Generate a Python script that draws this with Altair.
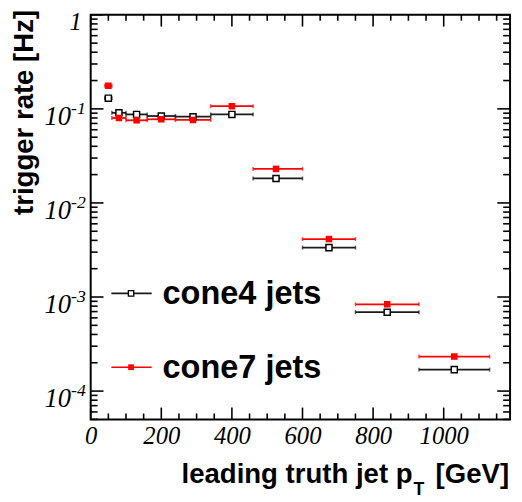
import altair as alt
import pandas as pd

# ---- data ----
bin_center = [50, 80, 130, 200, 290, 400, 525, 675, 840, 1030]
bin_lo = [40, 60, 100, 160, 240, 340, 460, 600, 750, 930]
bin_hi = [60, 100, 160, 240, 340, 460, 600, 750, 930, 1130]
cone4_rate = [0.130, 0.0908, 0.0873, 0.0839, 0.0825, 0.0873, 0.0182, 0.00335, 0.00069, 0.000169]
cone7_rate = [0.176, 0.080, 0.0756, 0.0775, 0.0762, 0.1067, 0.0230, 0.00413, 0.000837, 0.000233]
series_names = ["cone4 jets", "cone7 jets"]

x_tick_labels = [0, 200, 400, 600, 800, 1000]
x_minor_ticks = [50, 100, 150, 250, 300, 350, 450, 500, 550, 650, 700, 750,
                 850, 900, 950, 1050, 1100, 1150]
y_major_ticks = [1e-4, 1e-3, 1e-2, 1e-1, 1.0]
y_exponents = ["-4", "-3", "-2", "-1"]
y_minor_ticks = [k * 10.0 ** e for e in range(-5, 0) for k in range(2, 10) if k * 10.0 ** e >= 5e-5]

W, H = 426, 411
SERIF = "Liberation Serif, Times New Roman, Times, serif"
SANS = "Liberation Sans, Arial, Helvetica, sans-serif"

df = pd.DataFrame({
    "x": bin_center * 2,
    "lo": bin_lo * 2,
    "hi": bin_hi * 2,
    "rate": cone4_rate + cone7_rate,
    "series": [series_names[0]] * len(bin_center) + [series_names[1]] * len(bin_center),
})

xs = alt.Scale(domain=[0, 1188], nice=False, zero=False)
ys = alt.Scale(type="log", domain=[5e-5, 1], nice=False)
x_axis = alt.Axis(values=x_tick_labels, format="d", labelFont=SERIF, labelFontStyle="italic",
                  labelFontSize=25, labelColor="black", ticks=False, domain=False, grid=False,
                  title=None, labelPadding=4, labelFlush=False)
col = alt.Color("series:N", scale=alt.Scale(domain=series_names, range=["#1a1a1a", "#ff0000"]), legend=None)

base = alt.Chart(df)
bars = base.mark_rule(strokeWidth=1.8).encode(
    x=alt.X("lo:Q", scale=xs, axis=x_axis), x2="hi:Q",
    y=alt.Y("rate:Q", scale=ys, axis=None), color=col)
cap_lo = base.mark_tick(orient="vertical", size=4, thickness=1.5).encode(
    x=alt.X("lo:Q", scale=xs, axis=x_axis), y=alt.Y("rate:Q", scale=ys, axis=None), color=col)
cap_hi = base.mark_tick(orient="vertical", size=4, thickness=1.5).encode(
    x=alt.X("hi:Q", scale=xs, axis=x_axis), y=alt.Y("rate:Q", scale=ys, axis=None), color=col)
pts4 = base.transform_filter(alt.datum.series == series_names[0]).mark_square(
    size=38, fill="white", stroke="black", strokeWidth=1.5, opacity=1, fillOpacity=1).encode(
    x=alt.X("x:Q", scale=xs, axis=x_axis), y=alt.Y("rate:Q", scale=ys, axis=None))
pts7 = base.transform_filter(alt.datum.series == series_names[1]).mark_square(
    size=44, color="#ff0000", opacity=1).encode(
    x=alt.X("x:Q", scale=xs, axis=x_axis), y=alt.Y("rate:Q", scale=ys, axis=None))

# ---- inward ticks on all four sides ----
ymaj = alt.Chart(pd.DataFrame({"v": y_major_ticks}))
ymin = alt.Chart(pd.DataFrame({"v": y_minor_ticks}))
xmaj = alt.Chart(pd.DataFrame({"v": x_tick_labels}))
xmin = alt.Chart(pd.DataFrame({"v": x_minor_ticks}))
yv = alt.Y("v:Q", scale=ys, axis=None)
xv = alt.X("v:Q", scale=xs, axis=x_axis)
tk = dict(color="black", strokeWidth=1.6)
ticks = [
    ymaj.mark_rule(**tk).encode(y=yv, x=alt.value(0), x2=alt.value(13)),
    ymaj.mark_rule(**tk).encode(y=yv, x=alt.value(W - 13), x2=alt.value(W)),
    ymin.mark_rule(**tk).encode(y=yv, x=alt.value(0), x2=alt.value(7)),
    ymin.mark_rule(**tk).encode(y=yv, x=alt.value(W - 7), x2=alt.value(W)),
    xmaj.mark_rule(**tk).encode(x=xv, y=alt.value(H), y2=alt.value(H - 12)),
    xmaj.mark_rule(**tk).encode(x=xv, y=alt.value(0), y2=alt.value(12)),
    xmin.mark_rule(**tk).encode(x=xv, y=alt.value(H), y2=alt.value(H - 6)),
    xmin.mark_rule(**tk).encode(x=xv, y=alt.value(0), y2=alt.value(6)),
]

# ---- y tick labels 10^n ----
ylab = alt.Chart(pd.DataFrame({"v": y_major_ticks[:4], "b": ["10"] * 4, "e": y_exponents}))
lab_font = dict(font=SERIF, fontStyle="italic", color="black")
ylab_base = ylab.mark_text(align="right", baseline="alphabetic", fontSize=27, dy=16, **lab_font).encode(
    y=yv, x=alt.value(-20), text="b:N")
ylab_exp = ylab.mark_text(align="left", baseline="alphabetic", fontSize=18, dy=5, **lab_font).encode(
    y=yv, x=alt.value(-20), text="e:N")
ylab_one = alt.Chart(pd.DataFrame({"v": [1.0], "t": ["1"]})).mark_text(
    align="right", baseline="alphabetic", fontSize=25, dy=15, **lab_font).encode(
    y=yv, x=alt.value(-9), text="t:N")

# ---- titles ----
bold = dict(font=SANS, fontWeight="bold", color="black")
ytitle = alt.Chart(pd.DataFrame({"t": ["trigger rate [Hz]"]})).mark_text(
    angle=270, align="right", baseline="alphabetic", fontSize=28, **bold).encode(
    text="t:N", x=alt.value(-59), y=alt.value(-5))
xt1 = alt.Chart(pd.DataFrame({"t": ["leading truth jet p"]})).mark_text(
    align="right", baseline="alphabetic", fontSize=28, **bold).encode(
    text="t:N", x=alt.value(327), y=alt.value(476))
xt2 = alt.Chart(pd.DataFrame({"t": ["T"]})).mark_text(
    align="left", baseline="alphabetic", fontSize=18, **bold).encode(
    text="t:N", x=alt.value(328), y=alt.value(488))
xt3 = alt.Chart(pd.DataFrame({"t": ["[GeV]"]})).mark_text(
    align="right", baseline="alphabetic", fontSize=28, **bold).encode(
    text="t:N", x=alt.value(425), y=alt.value(476))

# ---- legend ----
leg = []
for name, ly, colr, is_open in [(series_names[0], 283, "#1a1a1a", True), (series_names[1], 358, "#ff0000", False)]:
    d = alt.Chart(pd.DataFrame({"t": [name]}))
    leg.append(d.mark_rule(color=colr, strokeWidth=1.6).encode(
        x=alt.value(21), x2=alt.value(62), y=alt.value(ly)))
    if is_open:
        leg.append(d.mark_square(size=30, fill="white", stroke="black", strokeWidth=1.3, opacity=1).encode(
            x=alt.value(41), y=alt.value(ly)))
    else:
        leg.append(d.mark_square(size=34, color=colr, opacity=1).encode(x=alt.value(41), y=alt.value(ly)))
    leg.append(d.mark_text(align="left", baseline="alphabetic", fontSize=33, **bold).encode(
        text="t:N", x=alt.value(73), y=alt.value(ly + 11)))

chart = alt.layer(
    *ticks, bars, cap_lo, cap_hi, pts4, pts7, ylab_base, ylab_exp, ylab_one,
    ytitle, xt1, xt2, xt3, *leg
).properties(
    width=W, height=H,
    padding={"left": 84, "top": 3, "right": 4, "bottom": 80},
    autosize=alt.AutoSizeParams(type="none"),
    background="white",
).configure_view(stroke="black", strokeWidth=2)

chart.save("out.html", embed_options={"renderer": "svg", "actions": False})
